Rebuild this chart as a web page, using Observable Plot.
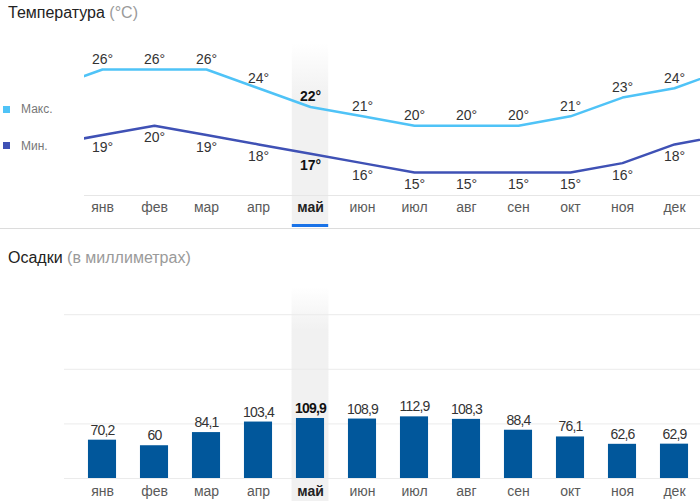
<!DOCTYPE html>
<html><head><meta charset="utf-8">
<script src="https://cdn.jsdelivr.net/npm/d3@7"></script>
<script src="https://cdn.jsdelivr.net/npm/@observablehq/plot@0.6"></script>
<style>
body{margin:0;width:700px;height:501px;overflow:hidden;background:#fff;font-family:"Liberation Sans",Arial,sans-serif;position:relative}
.abs{position:absolute}
.title{font-size:16px;color:#222;line-height:26px;white-space:nowrap}
.title span{color:#9a9a9a}
.leg{font-size:12px;color:#777;line-height:14px;white-space:nowrap}
.sq{width:7px;height:7px}
</style></head><body>
<div id="top" class="abs" style="left:0;top:0"></div>
<div id="bottom" class="abs" style="left:0;top:230px"></div>
<div class="abs title" style="left:8px;top:0">Температура <span>(°C)</span></div>
<div class="abs title" style="left:8px;top:245px">Осадки <span>(в миллиметрах)</span></div>
<div class="abs sq" style="left:3px;top:106px;background:#4fc3f7"></div>
<div class="abs leg" style="left:21px;top:102px">Макс.</div>
<div class="abs sq" style="left:3px;top:142px;background:#3f51b5"></div>
<div class="abs leg" style="left:21px;top:139px">Мин.</div>
<div class="abs" style="left:0;top:228px;width:700px;height:1px;background:#dcdcdc"></div>
<script>
const months = ["янв","фев","мар","апр","май","июн","июл","авг","сен","окт","ноя","дек"];
const tMax = [26,26,26,24,22,21,20,20,20,21,23,24];
const tMin = [19,20,19,18,17,16,15,15,15,15,16,18];
const precip = [70.2,60,84.1,103.4,109.9,108.9,112.9,108.3,88.4,76.1,62.6,62.9];
const highlight = "май";

const maxColor = "#4fc3f7", minColor = "#3f51b5", barColor = "#01579b", accent = "#1a73e8";
const font = {fontFamily:'"Liberation Sans", Arial, sans-serif', fontSize:"14px", background:"transparent", overflow:"visible"};

const hi = months.indexOf(highlight);
const rows = months.map((m,i)=>({m, i, max:tMax[i], min:tMin[i], v:precip[i]}));
const wrap = arr => [{i:-1, v:arr[arr.length-1]}, ...arr.map((v,i)=>({i, v})), {i:arr.length, v:arr[0]}];
const deg = v => v + "°";
const fmt = v => String(v).replace(".", ",");
const others = rows.filter(d => d.i !== hi), sel = rows.filter(d => d.i === hi);
const monthAxis = (ticks, pad, bold) => Plot.axisX({
  ticks, tickFormat:i=>months[i], tickSize:0, tickPadding:pad, fontSize:14, label:null,
  color: bold ? "#222" : "#5a5a5a", fontWeight: bold ? "bold" : "normal"
});
const xScale = {type:"linear", domain:[0,11], range:[102,674], axis:null};

const topPlot = Plot.plot({
  width:700, height:230, marginLeft:84, marginRight:0, marginTop:43, marginBottom:35,
  style: font,
  x: xScale,
  y:{type:"linear", domain:[15,26], range:[172,69], axis:null},
  marks:[
    Plot.rect([hi], {x1:d=>d-0.35, x2:d=>d+0.35, fill:"url(#bandTop)", insetBottom:-29}),
    Plot.rect([hi], {x1:d=>d-0.35, x2:d=>d+0.35, fill:accent, insetTop:181, insetBottom:-32}),
    Plot.frame({anchor:"bottom", stroke:"#e6e6e6"}),
    Plot.line(wrap(tMax), {x:"i", y:"v", stroke:maxColor, strokeWidth:2.5, clip:true}),
    Plot.line(wrap(tMin), {x:"i", y:"v", stroke:minColor, strokeWidth:2.5, clip:true}),
    Plot.text(others, {x:"i", y:"max", text:d=>deg(d.max), dy:-10, fill:"#333"}),
    Plot.text(sel, {x:"i", y:"max", text:d=>deg(d.max), dy:-10, fill:"#111", fontWeight:"bold"}),
    Plot.text(others, {x:"i", y:"min", text:d=>deg(d.min), dy:12, fill:"#333"}),
    Plot.text(sel, {x:"i", y:"min", text:d=>deg(d.min), dy:12, fill:"#111", fontWeight:"bold"}),
    monthAxis(others.map(d=>d.i), 7, false),
    monthAxis([hi], 7, true)
  ]
});

const gridTicks = [0,100,200,300];
const botPlot = Plot.plot({
  width:700, height:271, marginLeft:64, marginRight:0, marginTop:57, marginBottom:23,
  style: font,
  x: xScale,
  y:{type:"linear", domain:[0,300], range:[248,84.2], axis:null},
  marks:[
    Plot.rect([hi], {x1:d=>d-0.355, x2:d=>d+0.355, fill:"url(#bandBot)", insetBottom:-23}),
    Plot.gridY({ticks:gridTicks, stroke:"#ebebeb", strokeOpacity:1}),
    Plot.rectY(rows, {x1:d=>d.i-0.27, x2:d=>d.i+0.27, y:"v", fill:barColor}),
    Plot.text(others, {x:"i", y:"v", text:d=>fmt(d.v), dy:-10, fill:"#333", fontSize:14}),
    Plot.text(sel, {x:"i", y:"v", text:d=>fmt(d.v), dy:-10, fill:"#111", fontSize:14, fontWeight:"bold"}),
    monthAxis(others.map(d=>d.i), 8, false),
    monthAxis([hi], 8, true)
  ]
});
d3.select(botPlot).selectAll('g[aria-label="text"] text').style("letter-spacing", "-0.8px");

function addGrad(svg, id, solidAt) {
  const defs = d3.select(svg).insert("defs", ":first-child");
  const g = defs.append("linearGradient").attr("id", id)
    .attr("x1", 0).attr("y1", 0).attr("x2", 0).attr("y2", 1);
  g.append("stop").attr("offset", 0).attr("stop-color", "#f1f1f1").attr("stop-opacity", 0);
  g.append("stop").attr("offset", solidAt).attr("stop-color", "#f1f1f1").attr("stop-opacity", 1);
  g.append("stop").attr("offset", 1).attr("stop-color", "#f1f1f1").attr("stop-opacity", 1);
}
addGrad(topPlot, "bandTop", 0.3);
addGrad(botPlot, "bandBot", 0.2);

document.getElementById("top").appendChild(topPlot);
document.getElementById("bottom").appendChild(botPlot);
</script>
</body></html>
